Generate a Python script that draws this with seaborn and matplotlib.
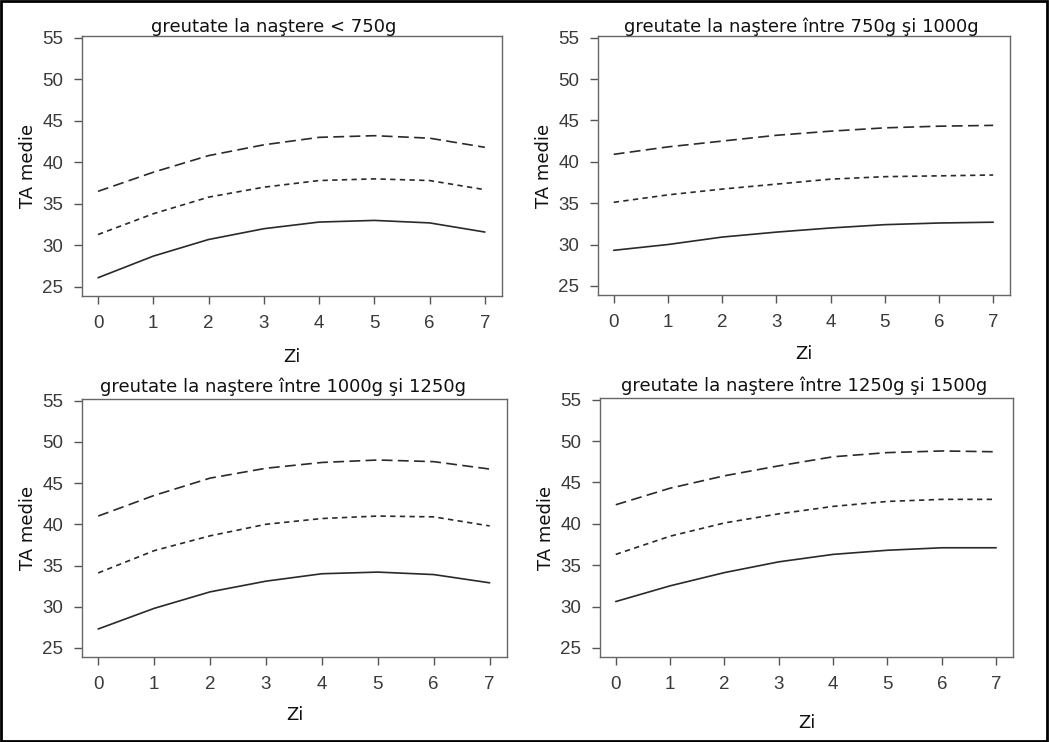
import numpy as np
import pandas as pd
import matplotlib
matplotlib.use("Agg")
import matplotlib.pyplot as plt
from matplotlib.patches import Rectangle
import seaborn as sns

# ---- data ----
zile = [0, 1, 2, 3, 4, 5, 6, 7]
titluri = [
    "greutate la naştere < 750g",
    "greutate la naştere între 750g şi 1000g",
    "greutate la naştere între 1000g şi 1250g",
    "greutate la naştere între 1250g şi 1500g",
]
# panel 1
p1_jos = [26.1, 28.7, 30.7, 32.0, 32.8, 33.0, 32.7, 31.6]
p1_mij = [31.3, 33.8, 35.8, 37.0, 37.8, 38.0, 37.8, 36.7]
p1_sus = [36.5, 38.8, 40.8, 42.1, 43.0, 43.2, 42.9, 41.8]
# panel 2
p2_jos = [29.3, 30.0, 30.9, 31.5, 32.0, 32.4, 32.6, 32.7]
p2_mij = [35.1, 36.0, 36.7, 37.3, 37.9, 38.2, 38.3, 38.4]
p2_sus = [40.9, 41.8, 42.5, 43.2, 43.7, 44.1, 44.3, 44.4]
# panel 3
p3_jos = [27.3, 29.8, 31.8, 33.1, 34.0, 34.2, 33.9, 32.9]
p3_mij = [34.1, 36.8, 38.6, 40.0, 40.7, 41.0, 40.9, 39.8]
p3_sus = [41.0, 43.5, 45.6, 46.8, 47.5, 47.8, 47.6, 46.7]
# panel 4
p4_jos = [30.6, 32.5, 34.1, 35.4, 36.3, 36.8, 37.1, 37.1]
p4_mij = [36.3, 38.5, 40.1, 41.2, 42.1, 42.7, 42.95, 42.95]
p4_sus = [42.3, 44.3, 45.8, 47.0, 48.1, 48.6, 48.8, 48.7]

yticks = [25, 30, 35, 40, 45, 50, 55]
xticks = zile

panels = [
    (p1_jos, p1_mij, p1_sus),
    (p2_jos, p2_mij, p2_sus),
    (p3_jos, p3_mij, p3_sus),
    (p4_jos, p4_mij, p4_sus),
]

sns.set_theme(style="white")
plt.rcParams["font.family"] = ["DejaVu Sans"]

W, H = 1049, 742
fig = plt.figure(figsize=(W / 100, H / 100), dpi=100)

# axes boxes in pixels: left, top, right, bottom
boxes = [
    (82, 36, 502, 296),
    (598, 36, 1010, 295),
    (82, 399, 507, 657),
    (600, 398, 1013, 657),
]
xlabel_pads = [11, 10, 9, 15]
title_x = [0.457, 0.493, 0.473, 0.494]
title_pad = [3, 3, 5, 5]

tick_font = {"family": "Liberation Sans", "size": 13.5}
dash_map = {"jos": "", "mij": (3.2, 2.6), "sus": (6.5, 3.2)}

for i, (b, vals) in enumerate(zip(boxes, panels)):
    l, t, r, bt = b
    ax = fig.add_axes([l / W, 1 - bt / H, (r - l) / W, (bt - t) / H])
    df = pd.DataFrame({
        "Zi": zile * 3,
        "TA": list(vals[0]) + list(vals[1]) + list(vals[2]),
        "curba": ["jos"] * 8 + ["mij"] * 8 + ["sus"] * 8,
    })
    sns.lineplot(data=df, x="Zi", y="TA", style="curba", dashes=dash_map,
                 color="#2a2a2a", linewidth=1.2, legend=False, ax=ax)
    ax.set_xlim(-0.29, 7.31)
    ax.set_ylim(23.9, 55.2)
    ax.set_xticks(xticks)
    ax.set_yticks(yticks)
    ax.set_xticklabels([str(v) for v in xticks], fontdict=tick_font, color="#3a3a3a")
    ax.set_yticklabels([str(v) for v in yticks], fontdict=tick_font, color="#3a3a3a")
    ax.tick_params(axis="both", direction="out", length=5.5, width=1,
                   color="#555555", bottom=True, left=True)
    ax.tick_params(axis="x", pad=8.5)
    ax.tick_params(axis="y", pad=8)
    for s in ax.spines.values():
        s.set_color("#666666")
        s.set_linewidth(1.0)
    ax.set_title(titluri[i], fontsize=13, pad=title_pad[i], color="#111111",
                 x=title_x[i])
    ax.set_xlabel("Zi", fontsize=13, labelpad=xlabel_pads[i], color="#111111")
    ax.set_ylabel("TA medie", fontsize=13, labelpad=4, color="#111111")

fig.patches.append(Rectangle((0.001, 0.001), 0.997, 0.997, transform=fig.transFigure,
                             fill=False, edgecolor="black", linewidth=2.0))

fig.savefig("out.png", dpi=100)
